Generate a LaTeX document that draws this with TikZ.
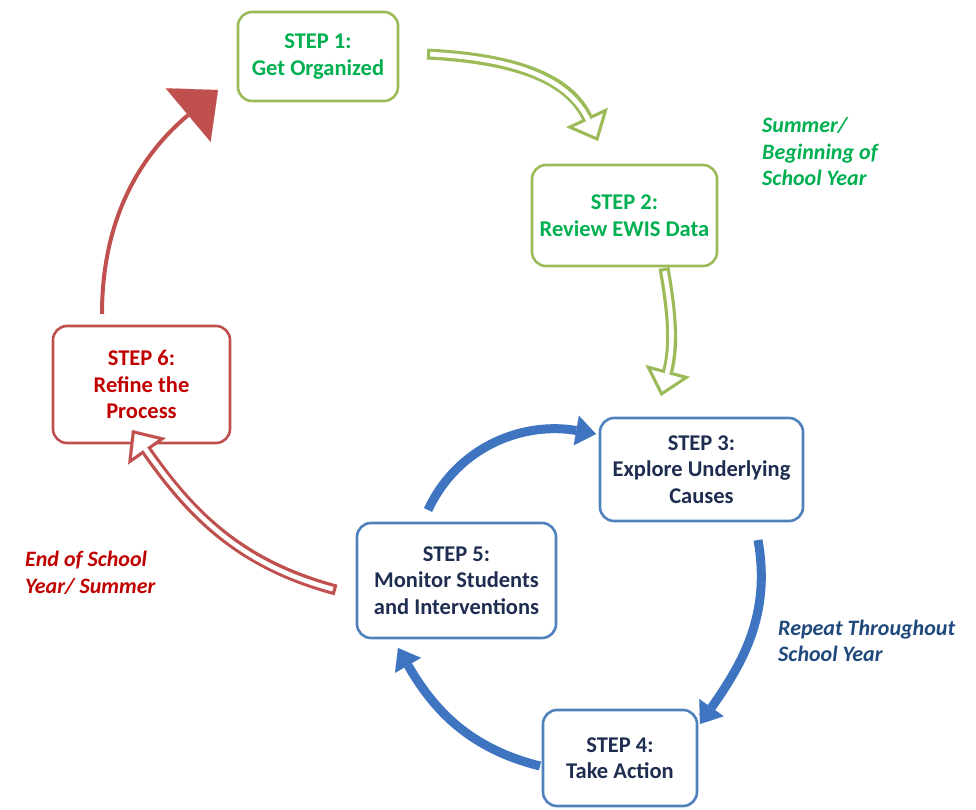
\documentclass[tikz,border=0pt]{standalone}
\usepackage{fontspec}
\setmainfont{Carlito}
\usetikzlibrary{arrows.meta}

\definecolor{greenline}{RGB}{155,187,89}
\definecolor{greentext}{RGB}{0,176,80}
\definecolor{blueline}{RGB}{79,129,189}
\definecolor{bluearrow}{RGB}{62,116,192}
\definecolor{navytext}{RGB}{31,45,80}
\definecolor{bluenote}{RGB}{31,73,125}
\definecolor{redline}{RGB}{192,80,77}
\definecolor{redtext}{RGB}{192,0,0}

% outlined block arrow: colour, start, out/in, tip
\newcommand{\hollowarrow}[4]{%
	\draw[#1, line width=11pt, -{Triangle[length=26pt, width=46pt, line width=0.1pt]}] (#2) to[#3] (#4);
	\draw[white, line width=4.6pt, shorten <=3.2pt, shorten >=4.8pt, -{Triangle[length=18pt, width=31.8pt, line width=0.1pt]}] (#2) to[#3] (#4);
}

\begin{document}
\begin{tikzpicture}[x=1pt, y=-1pt,
	stepbox/.style={draw, rounded corners=14pt, line width=2.6pt, align=center, inner sep=0pt,
		font=\bfseries\fontsize{22.5}{26.5}\selectfont},
	note/.style={anchor=west, align=left, inner sep=0pt, font=\bfseries\itshape\fontsize{22}{26.5}\selectfont},
	looparrow/.style={bluearrow, line width=9pt, -{Triangle[length=20pt, width=30pt, line width=0.1pt]}}]
	\useasboundingbox (0,0) rectangle (976,810);

	% steps
	\node[stepbox, draw=greenline, text=greentext, minimum width=160pt, minimum height=89pt] (s1) at (318,56.5) {STEP 1:\\Get Organized};
	\node[stepbox, draw=greenline, text=greentext, minimum width=185pt, minimum height=101pt] (s2) at (624.5,215.5) {STEP 2:\\Review EWIS Data};
	\node[stepbox, draw=blueline, text=navytext, minimum width=203pt, minimum height=103pt] (s3) at (701.5,469.5) {STEP 3:\\Explore Underlying\\Causes};
	\node[stepbox, draw=blueline, text=navytext, minimum width=154pt, minimum height=96pt] (s4) at (620,758) {STEP 4:\\Take Action};
	\node[stepbox, draw=blueline, text=navytext, minimum width=199pt, minimum height=115pt] (s5) at (456.5,580.5) {STEP 5:\\Monitor Students\\and Interventions};
	\node[stepbox, draw=redline, text=redtext, minimum width=177pt, minimum height=117pt] (s6) at (141.5,384.5) {STEP 6:\\Refine the\\Process};

	% phases
	\node[note, text=greentext] (summer) at (762,152) {Summer/\\Beginning of\\School Year};
	\node[note, text=bluenote] (repeat) at (778,641) {Repeat Throughout\\School Year};
	\node[note, text=redtext] (endyear) at (25,573) {End of School\\Year/ Summer};

	% arrow ends
	\coordinate (g1s) at (427,54);
	\coordinate (g1e) at (598,141);
	\coordinate (g2s) at (664,268);
	\coordinate (g2e) at (661,396);
	\coordinate (r1s) at (336,590);
	\coordinate (r1e) at (132,430);
	\coordinate (r2s) at (102,314);
	\coordinate (r2e) at (218,90);
	\coordinate (b1s) at (428,510);
	\coordinate (b1e) at (596,434);
	\coordinate (b2s) at (758,540);
	\coordinate (b2e) at (700,724);
	\coordinate (b3s) at (540,766);
	\coordinate (b3e) at (398,648);

	\hollowarrow{greenline}{g1s}{out=-3, in=115}{g1e}
	\hollowarrow{greenline}{g2s}{out=-80, in=75}{g2e}
	\hollowarrow{redline}{r1s}{out=165, in=-55}{r1e}
	\draw[redline, line width=4pt, -{Triangle[length=39pt, width=70pt, line width=0.1pt]}] (r2s) to[out=90, in=220] (r2e);

	\draw[looparrow] (b1s) to[out=65, in=170] (b1e);
	\draw[looparrow] (b2s) to[out=-80, in=55] (b2e);
	\draw[looparrow] (b3s) to[out=166, in=-60] (b3e);
\end{tikzpicture}
\end{document}
